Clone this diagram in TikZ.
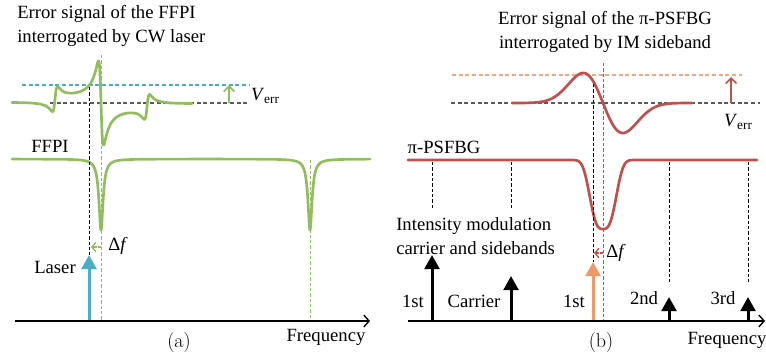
\documentclass[tikz,border=0pt]{standalone}
\usepackage{fontspec}
\newfontfamily\tnr{Liberation Serif}
\usetikzlibrary{arrows.meta}

\definecolor{ffpigreen}{RGB}{146,189,94}
\definecolor{lasercyan}{RGB}{75,172,198}
\definecolor{fbgred}{RGB}{192,80,77}
\definecolor{sideorange}{RGB}{240,152,104}

\begin{document}
\begin{tikzpicture}[x=0.75pt, y=-0.75pt,
    declare function={dsp(\t)=(\t)/((\t)*(\t)+0.0625); gs(\v)=exp(-abs((\v)*(\v)*(\v))); gd(\v)=(\v)*exp(-(\v)*(\v));},
    lbl/.style={font=\tnr\fontsize{14}{18}\selectfont, inner sep=0pt},
    trace/.style={line width=2pt, line join=round, line cap=round},
    guide/.style={line width=0.6pt, dash pattern=on 2.5pt off 1.5pt},
    zerolevel/.style={line width=0.9pt, dash pattern=on 3pt off 2pt},
    freqaxis/.style={line width=1pt, -{Straight Barb[length=4pt,width=9pt]}},
    specline/.style={line width=2.25pt, -{Triangle[length=10.5pt,width=11pt]}},
    detune/.style={line width=1pt, dash pattern=on 2pt off 1pt, -{Straight Barb[length=3pt,width=7pt]}},
    vup/.style={line width=1.2pt, -{Straight Barb[length=4pt,width=8pt]}}
]
    \useasboundingbox (0,0) rectangle (766,356);

    %% (a) FFPI with CW laser
    \node[lbl, align=left, anchor=north west] (titleA) at (17,5) {Error signal of the FFPI\\interrogated by CW laser};

    % Error signal
    \draw[zerolevel, lasercyan] (22,85) -- (250,85);
    \draw[zerolevel, gray!70!black] (50,103) -- (248,103);
    \draw[trace, ffpigreen] plot[domain=12:192, samples=721]
        (\x, {103-21*(-dsp((\x-101)/10)+0.29*dsp((\x-101)/10+4.6)+0.29*dsp((\x-101)/10-4.6))});
    \coordinate (vA0) at (229,103);
    \coordinate (vA1) at (229,85);
    \draw[vup, ffpigreen] (vA0) -- (vA1);
    \node[lbl] (verrA) at (265,96) {\textit{V}\raisebox{-0.35ex}{\fontsize{10}{10}\selectfont err}};

    % Transmission
    \node[lbl] (ffpi) at (50,146) {FFPI};
    \draw[trace, ffpigreen] plot[domain=-88.39:88.62, samples=120] ({101+2.5*tan(\x)}, {159+71*cos(\x)*cos(\x)})
        -- plot[domain=-88.64:87.61, samples=120] ({310+2.5*tan(\x)}, {159+71*cos(\x)*cos(\x)});

    % Laser line
    \coordinate (laser) at (89,321);
    \coordinate (laser top) at (89,255);
    \draw[guide, ffpigreen] (101,55) -- (101,321);
    \draw[guide, ffpigreen] (310,160) -- (310,321);
    \draw[guide, black] (89,87) -- (laser top);
    \draw[specline, lasercyan] (laser) -- (laser top);
    \node[lbl] (laserlbl) at (55,267) {Laser};
    \coordinate (dfA0) at (101,247);
    \coordinate (dfA1) at (91,247);
    \draw[detune, ffpigreen] (dfA0) -- (dfA1);
    \node[lbl] (dfA) at (118,246) {Δ\textit{f}};

    % Axis
    \coordinate (axA0) at (15,321);
    \coordinate (axA1) at (370,321);
    \draw[freqaxis] (axA0) -- (axA1);
    \node[lbl] (freqA) at (326,337) {Frequency};
    \node[font=\fontsize{15}{18}\selectfont, inner sep=0pt] (capA) at (179,343) {(a)};

    %% (b) pi-PSFBG with IM sidebands
    \node[lbl, align=center, anchor=north] (titleB) at (605,11) {Error signal of the π-PSFBG\\interrogated by IM sideband};

    % Error signal
    \draw[zerolevel, sideorange!85!white] (452,75) -- (742,75);
    \draw[zerolevel, gray!70!black] (451,103) -- (760,103);
    \draw[trace, fbgred] (512,103) -- plot[domain=519:687, samples=200] (\x, {103+70*gd((\x-603)/28)}) -- (692,103);
    \coordinate (vB0) at (731,103);
    \coordinate (vB1) at (731,77);
    \draw[vup, fbgred] (vB0) -- (vB1);
    \node[lbl] (verrB) at (738,122) {\textit{V}\raisebox{-0.35ex}{\fontsize{10}{10}\selectfont err}};

    % Transmission
    \node[lbl] (fbg) at (444,147) {π-PSFBG};
    \draw[trace, fbgred] (408,160) -- plot[domain=571:635, samples=129] (\x, {160+69*gs((\x-603)/15.4)}) -- (757,160);

    % Carrier and sidebands
    \foreach \name/\xx/\yy/\yg in {sbm1/432/255/210, car/511/276/210, sb2/669/297/282, sb3/748/297/282} {
        \coordinate (\name) at (\xx,321);
        \coordinate (\name top) at (\xx,\yy);
        \draw[guide] (\xx,162) -- (\xx,\yg);
        \draw[specline] (\name) -- (\name top);
    }
    \coordinate (sb1) at (593,321);
    \coordinate (sb1 top) at (593,262);
    \draw[guide, fbgred] (603,63) -- (603,321);
    \draw[guide, black] (593,84) -- (sb1 top);
    \draw[specline, sideorange] (sb1) -- (sb1 top);
    \coordinate (dfB0) at (603,253);
    \coordinate (dfB1) at (594,253);
    \draw[detune, fbgred] (dfB0) -- (dfB1);
    \node[lbl] (dfB) at (616,253) {Δ\textit{f}};

    \node[lbl, align=left, anchor=west] (imlbl) at (396,236) {Intensity modulation\\carrier and sidebands};
    \node[lbl] (ord1l) at (413,301) {1st};
    \node[lbl] (carlbl) at (474,301) {Carrier};
    \node[lbl] (ord1r) at (574,301) {1st};
    \node[lbl] (ord2) at (644,298) {2nd};
    \node[lbl] (ord3) at (723,298) {3rd};

    % Axis
    \coordinate (axB0) at (408,321);
    \coordinate (axB1) at (765,321);
    \draw[freqaxis] (axB0) -- (axB1);
    \node[lbl] (freqB) at (727,340) {Frequency};
    \node[font=\fontsize{15}{18}\selectfont, inner sep=0pt] (capB) at (601,343) {(b)};
\end{tikzpicture}
\end{document}
